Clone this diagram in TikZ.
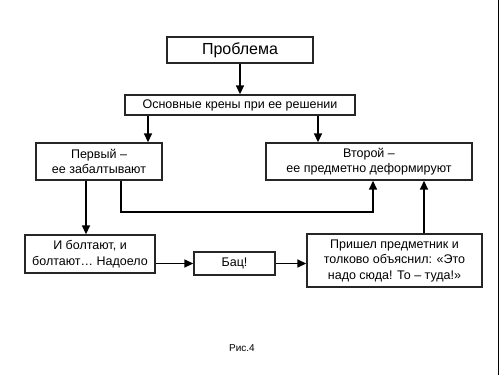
\documentclass[tikz,border=0pt]{standalone}
\usepackage{fontspec}
\setmainfont{Liberation Sans}
\usepackage{tikz}
\usetikzlibrary{arrows.meta, positioning}

\begin{document}
\begin{tikzpicture}[
    x=1pt, y=-1pt,
    font=\fontsize{12.5}{15.5}\selectfont,
    box/.style={draw=black!85, line width=1.4pt, fill=white, inner sep=0pt, align=center},
    arrow/.style={-{Triangle[length=9pt, width=8pt]}, line width=1.6pt}
  ]
    \useasboundingbox (0,0) rectangle (500,375);

    \node[box, minimum width=146pt, minimum height=26pt, font=\fontsize{16}{18}\selectfont] (prob) at (240,50) {Проблема};
    \node[box, minimum width=230pt, minimum height=20pt] (osn) at (240,105) {Основные крены при ее решении};
    \node[box, minimum width=126pt, minimum height=37pt] (perv) at (99,161.5) {Первый –\\ее забалтывают};
    \node[box, minimum width=206pt, minimum height=37pt] (vtor) at (369,161.5) {Второй –\\ее предметно деформируют};
    \node[box, minimum width=130pt, minimum height=38pt] (bolt) at (90,254) {И болтают, и\\болтают… Надоело};
    \node[box, minimum width=81pt, minimum height=23pt] (bac) at (234.5,263.5) {Бац!};
    \node[box, minimum width=175pt, minimum height=53pt] (prish) at (394.5,260.5) {Пришел предметник и\\толково объяснил: «Это\\надо сюда! То – туда!»};
    \node[font=\fontsize{10}{12}\selectfont] (fig) at (242,348) {Рис.4};
    \coordinate (turn) at (0,212);

    \draw[arrow] (prob) -- (osn);
    \draw[arrow] ([xshift=-92pt]osn.south) -- ([xshift=-92pt]osn.south |- perv.north);
    \draw[arrow] ([xshift=78pt]osn.south) -- ([xshift=78pt]osn.south |- vtor.north);
    \draw[arrow] ([xshift=-13pt]perv.south) -- ([xshift=-13pt]perv.south |- bolt.north);
    \draw[arrow] ([xshift=22pt]perv.south) -- ([xshift=22pt]perv.south |- turn) -| ([xshift=4pt]vtor.south);
    \draw[arrow] ([xshift=29.5pt]prish.north) -- ([xshift=29.5pt]prish.north |- vtor.south);
    \draw[arrow] (bac.west -| bolt.east) -- (bac.west);
    \draw[arrow] (bac.east) -- (bac.east -| prish.west);

    % frame edge on the right
    \draw[line width=1.5pt] (498.5,0) -- (498.5,375);
  \end{tikzpicture}
\end{document}
